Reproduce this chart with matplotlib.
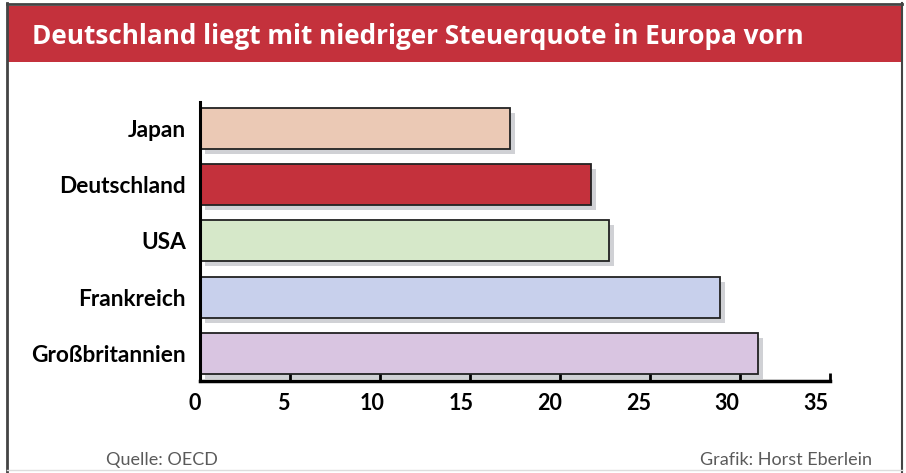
import matplotlib.pyplot as plt
import matplotlib.transforms as mtransforms
from matplotlib.patches import Rectangle
from matplotlib.lines import Line2D

countries = ["Japan", "Deutschland", "USA", "Frankreich", "Großbritannien"]
quote = [17.2, 21.7, 22.7, 28.9, 31.0]
colors = ["#EBC9B5", "#C4313C", "#D6E8C9", "#C8D0EC", "#D9C5E1"]
xticks = [0, 5, 10, 15, 20, 25, 30, 35]

title = "Deutschland liegt mit niedriger Steuerquote in Europa vorn"
source = "Quelle: OECD"
credit = "Grafik: Horst Eberlein"

W, H = 906, 473
fig = plt.figure(figsize=(W / 100, H / 100), dpi=100)

# frame + title bar
fig.add_artist(Rectangle((8 / W, 1 - 62 / H), 894 / W, 56 / H, transform=fig.transFigure,
                         facecolor="#C4313C", edgecolor="none"))
fig.add_artist(Line2D([7 / W, 7 / W], [0, 1 - 3 / H], transform=fig.transFigure, color="#444444", lw=2))
fig.add_artist(Line2D([7 / W, 902 / W], [1 - 4 / H, 1 - 4 / H], transform=fig.transFigure, color="#444444", lw=2))
fig.add_artist(Line2D([902 / W, 902 / W], [0, 1 - 3 / H], transform=fig.transFigure, color="#444444", lw=1.5))
fig.add_artist(Line2D([7 / W, 902 / W], [3 / H, 3 / H], transform=fig.transFigure, color="#dddddd", lw=1))

fig.text(32 / W, 1 - 36 / H, title, color="white", fontsize=18.8, fontweight="bold",
         family=["Open Sans", "DejaVu Sans"], va="center", ha="left")

fig.text(106 / W, 1 - 460 / H, source, color="#5a5a5a", fontsize=13,
         family=["Lato", "DejaVu Sans"], va="center", ha="left")
fig.text(872 / W, 1 - 460 / H, credit, color="#5a5a5a", fontsize=13,
         family=["Lato", "DejaVu Sans"], va="center", ha="right")

ax = fig.add_axes([200 / W, (H - 380.7) / H, 630 / W, (380.7 - 101.7) / H])

y = list(range(len(countries)))
shadow = mtransforms.offset_copy(ax.transData, fig=fig, x=5, y=-5, units="dots")
ax.barh(y, quote, height=0.73, color="#D0D1D5", transform=shadow, zorder=1, clip_on=False)
ax.barh(y, quote, height=0.73, color=colors, edgecolor="#222222", linewidth=1.3, zorder=2)

ax.set_xlim(0, 35)
ax.set_ylim(4.49, -0.48)

for s in ["top", "right"]:
    ax.spines[s].set_visible(False)
ax.spines["left"].set_linewidth(2.2)
ax.spines["bottom"].set_linewidth(2.5)
ax.spines["bottom"].set_zorder(3)

ax.set_yticks(y)
ax.set_yticklabels(countries, fontsize=16.3, fontweight="bold", family=["Lato", "DejaVu Sans"])
ax.tick_params(axis="y", length=0, pad=10)

ax.set_xticks(xticks)
ax.set_xticklabels([str(v) for v in xticks], fontsize=15.5, fontweight="bold",
                   family=["Lato", "DejaVu Sans"])
ax.tick_params(axis="x", direction="in", length=6, width=2, pad=9)
for lab, v in zip(ax.get_xticklabels(), xticks):
    lab.set_transform(lab.get_transform() + mtransforms.ScaledTranslation(-(5 + 0.27 * v) / 100, 0, fig.dpi_scale_trans))

fig.savefig("out.png", dpi=100)
